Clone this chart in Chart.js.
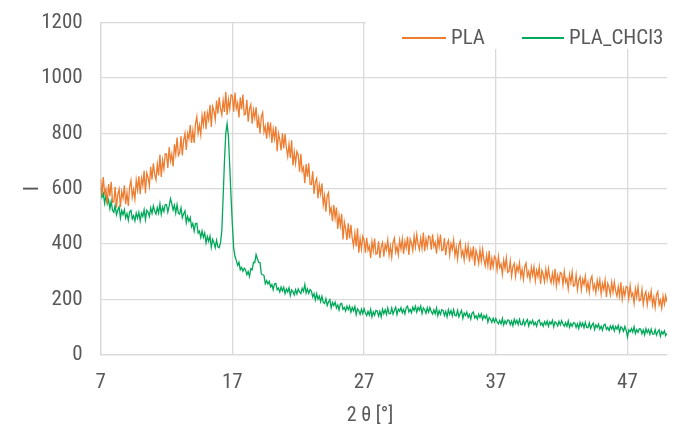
<!DOCTYPE html>
<html lang="en">
<head>
    <meta charset="UTF-8">
    <title>PLA XRD</title>
    <script src="https://cdn.jsdelivr.net/npm/chart.js@4.4.0/dist/chart.umd.min.js"></script>
    <style>
      body { margin: 0; background: #fff; }
    </style>
</head>
<body>
<canvas id="chartJSContainer" width="683" height="432"></canvas>
<script>
// 2theta grid: 7.0 .. 50.0, step 0.1 (one row = one degree)
var thetaStart = 7;
var thetaStep = 0.1;
var xTicks = [7, 17, 27, 37, 47];
var yTicks = [0, 200, 400, 600, 800, 1000, 1200];
var seriesNames = ['PLA', 'PLA_CHCl3'];

var pla = [
  635,576,642,583,599,545,617,573,625,551,
  553,607,531,580,599,533,589,566,612,544,
  585,538,607,630,569,597,562,631,596,645,
  580,638,612,665,584,657,641,610,679,633,
  692,652,632,688,648,723,642,702,671,726,
  725,675,750,700,725,680,760,725,785,720,
  730,790,720,775,800,740,800,780,830,765,
  810,765,835,860,800,830,795,865,830,880,
  815,874,849,903,823,897,881,849,918,871,
  930,888,866,919,877,950,866,922,888,939,
  935,878,947,890,909,857,930,887,940,867,
  870,921,842,888,904,835,885,855,895,820,
  855,800,860,875,805,825,781,842,798,839,
  765,815,780,825,735,800,777,738,800,746,
  798,747,717,761,711,775,684,732,691,734,
  723,661,725,663,677,620,689,643,692,616,
  615,663,581,624,637,565,613,581,619,542,
  575,517,574,586,513,530,483,541,494,532,
  455,503,466,509,417,480,455,415,475,420,
  470,421,393,439,391,457,369,420,382,428,
  415,369,423,378,392,350,409,376,420,363,
  366,410,350,390,406,354,398,379,415,360,
  392,353,406,422,371,392,361,414,382,419,
  364,409,386,427,361,418,403,376,429,390,
  435,400,380,421,385,442,374,418,390,429,
  425,380,435,391,406,365,424,391,434,376,
  379,422,360,399,413,360,402,381,415,358,
  388,346,397,411,358,376,342,393,359,394,
  336,379,353,392,322,377,359,330,380,339,
  381,343,321,360,322,376,306,348,318,356,
  348,307,355,315,328,290,342,312,350,298,
  301,339,284,318,330,283,321,302,332,282,
  309,273,318,331,284,301,271,316,287,318,
  267,305,283,317,256,305,290,264,309,273,
  311,278,260,294,262,311,250,287,262,297,
  293,253,301,262,275,238,290,261,299,248,
  251,289,235,269,282,235,273,254,285,235,
  262,226,271,284,237,254,224,269,240,271,
  220,258,236,270,209,258,243,217,262,226,
  263,230,212,246,213,262,201,238,213,247,
  243,203,250,211,223,186,238,209,246,195,
  198,236,182,215,228,181,219,199,230,180,
  207,171,216,228,181,198,168,212,183,214,
  190
];

var plaChcl3 = [
  604,569,583,547,576,545,560,528,555,522,
  515,540,506,523,535,494,521,506,524,494,
  510,486,517,522,491,502,484,512,494,515,
  484,512,500,524,488,522,515,500,531,511,
  538,519,508,532,512,545,508,534,518,543,
  542,515,537,564,546,523,541,512,542,512,
  508,531,495,510,520,477,500,482,496,463,
  475,447,474,475,440,447,424,447,424,440,
  404,427,410,429,388,417,406,387,414,390,
  387,405,450,570,700,800,835,790,680,570,
  470,385,355,340,323,334,307,316,302,313,
  307,289,301,283,311,307,334,333,362,347,
  334,333,292,289,287,257,268,256,265,245,
  254,235,256,258,235,241,227,245,231,244,
  221,238,227,242,214,234,228,216,235,220,
  238,227,221,240,229,254,223,238,222,236,
  230,209,221,198,221,201,212,192,211,189,
  185,203,178,191,199,170,189,178,190,169,
  180,162,184,186,164,171,158,176,163,176,
  154,171,159,174,145,166,159,146,165,149,
  166,151,142,157,143,164,137,155,143,160,
  158,140,157,137,165,148,163,146,169,149,
  149,169,147,161,172,145,165,157,170,152,
  164,148,171,176,155,164,152,172,160,175,
  154,171,161,176,149,170,163,150,170,154,
  171,156,147,162,148,169,141,159,146,163,
  160,142,157,137,163,146,160,141,163,142,
  141,160,137,150,160,132,151,142,154,135,
  146,129,151,155,133,141,129,147,135,148,
  128,142,132,143,118,135,128,117,132,118,
  131,119,112,124,112,131,108,123,112,126,
  125,109,122,105,128,113,125,109,128,110,
  109,126,107,119,127,104,121,113,125,108,
  117,103,122,126,108,115,103,120,109,122,
  103,119,111,124,101,119,114,104,121,108,
  123,111,103,116,103,122,99,113,103,116,
  115,99,112,95,117,103,115,98,117,99,
  98,115,95,107,114,91,108,99,111,93,
  103,89,107,111,92,99,88,104,93,105,
  86,102,93,106,82,101,96,85,102,88,
  65,90,83,95,82,101,77,91,81,94,
  93,76,90,72,94,80,91,74,93,75,
  74,91,71,83,90,67,84,75,87,69,
  78
];

function toPoints(arr) {
  return arr.map(function(v, i) {
    return { x: +(thetaStart + i * thetaStep).toFixed(1), y: v };
  });
}

var axisFont = { family: "'Roboto Condensed', 'Liberation Sans', sans-serif", size: 21 };
var titleFont = { family: axisFont.family, size: 20 };
var textColor = '#595959';
var gridColor = '#d9d9d9';

// legend sits inside the plot, top right, on a white patch
var legendPlugin = {
  id: 'boxLegend',
  afterDraw: function(chart) {
    var c = chart.ctx;
    c.save();
    c.fillStyle = '#ffffff';
    c.fillRect(366, 14, 320, 35);
    c.font = axisFont.size + 'px ' + axisFont.family;
    c.textBaseline = 'middle';
    var items = [
      { x0: 402, x1: 446, tx: 451 },
      { x0: 522, x1: 564, tx: 569 }
    ];
    chart.data.datasets.forEach(function(ds, i) {
      var it = items[i];
      c.strokeStyle = ds.borderColor;
      c.lineWidth = 2;
      c.beginPath();
      c.moveTo(it.x0, 38);
      c.lineTo(it.x1, 38);
      c.stroke();
      c.fillStyle = textColor;
      c.fillText(ds.label, it.tx, 39);
    });
    c.restore();
  }
};

function plainTick(v) { return String(v); }

var options = {
  type: 'line',
  data: {
    datasets: [{
        label: seriesNames[0],
        data: toPoints(pla),
        borderColor: '#ED7D31',
        borderWidth: 1.3,
        pointRadius: 0
      },
      {
        label: seriesNames[1],
        data: toPoints(plaChcl3),
        borderColor: '#00A859',
        borderWidth: 1.3,
        pointRadius: 0
      }
    ]
  },
  options: {
    responsive: false,
    animation: false,
    layout: { padding: { left: 10, right: 16, top: 0, bottom: 0 } },
    plugins: {
      legend: { display: false },
      tooltip: { enabled: false }
    },
    scales: {
      x: {
        type: 'linear',
        min: 7,
        max: 50,
        afterBuildTicks: function(scale) {
          scale.ticks = xTicks.map(function(v) { return { value: v }; });
        },
        grid: { color: gridColor, lineWidth: 1.3, drawTicks: false },
        border: { color: gridColor, width: 1.3 },
        ticks: { font: axisFont, color: textColor, padding: 15, maxRotation: 0, callback: plainTick },
        // trailing spaces nudge the centred title a little to the left, as in the original
        title: { display: true, text: '2 θ [°]      ', font: titleFont, color: textColor, padding: { top: -6, bottom: 4 } }
      },
      y: {
        min: 0,
        max: 1200,
        afterBuildTicks: function(scale) {
          scale.ticks = yTicks.map(function(v) { return { value: v }; });
        },
        // invisible tick marks give the label gap without pushing the top down
        grid: { color: gridColor, lineWidth: 1.3, drawTicks: true, tickLength: 8, tickColor: 'rgba(0,0,0,0)' },
        border: { color: gridColor, width: 1.3 },
        ticks: { font: axisFont, color: textColor, padding: 10, callback: plainTick },
        title: { display: true, text: 'I', font: axisFont, color: textColor, padding: { top: 10, bottom: -14 } }
      }
    }
  },
  plugins: [legendPlugin]
};

var ctx = document.getElementById('chartJSContainer').getContext('2d');
window.test = new Chart(ctx, options);
</script>
</body>
</html>
